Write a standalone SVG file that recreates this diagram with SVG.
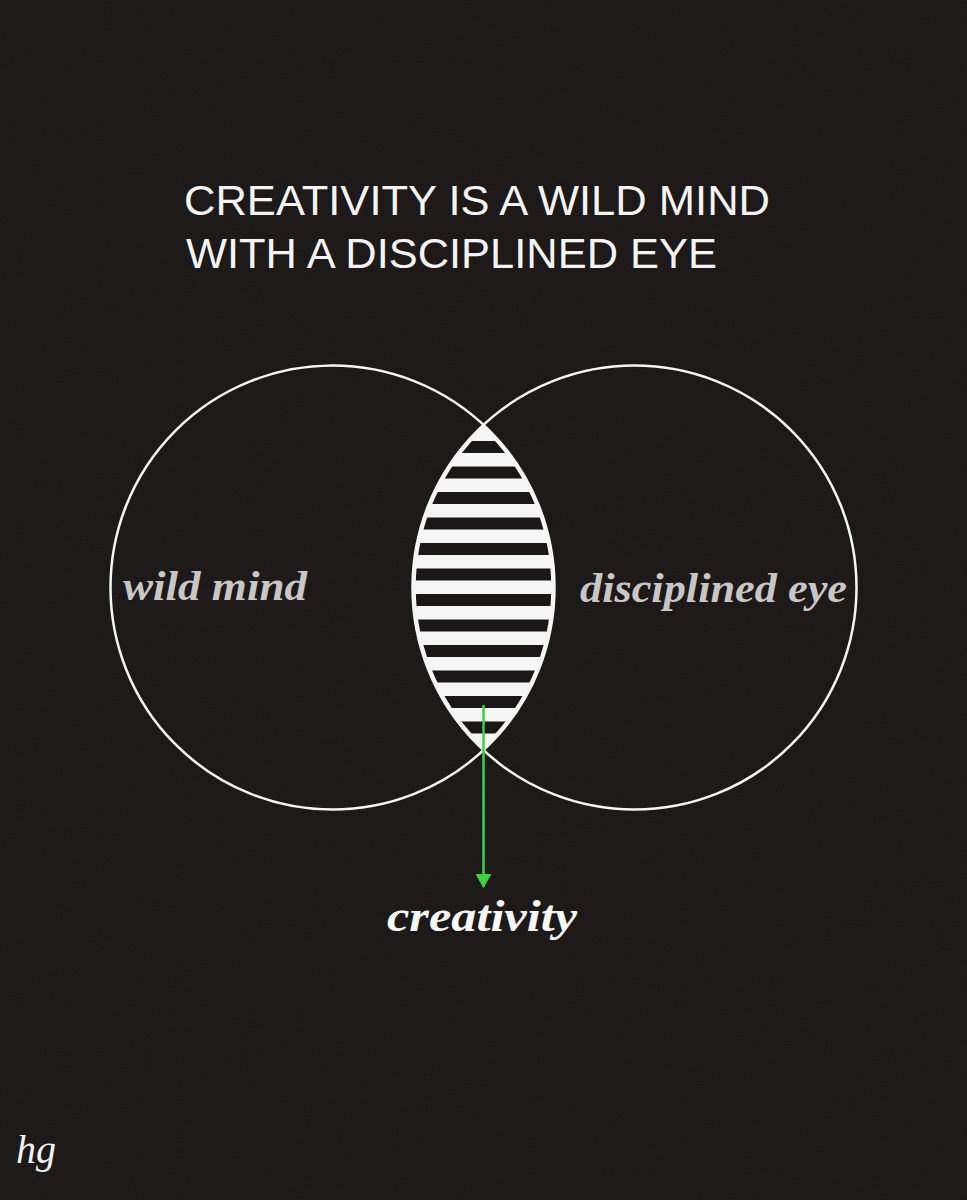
<svg xmlns="http://www.w3.org/2000/svg" width="967" height="1200" viewBox="0 0 967 1200">
<style>
.title{font-family:"Liberation Sans",Arial,sans-serif;font-size:43px;fill:#f4f4f4}
.lbl{font-family:"Liberation Serif","Times New Roman",serif;font-style:italic;font-weight:bold;font-size:43px;fill:#c9c7c6}
.ring{fill:none;stroke:#f5f5f5;stroke-width:2.5}
</style>
<defs>
<clipPath id="lensClip"><path d="M483.5,425 A222,222 0 0 0 483.5,750 A222,222 0 0 0 483.5,425 Z"/></clipPath>
<marker id="arr" viewBox="0 0 14 16" refX="13" refY="8" markerWidth="14" markerHeight="16" markerUnits="userSpaceOnUse" orient="auto">
<path d="M0,0 L14,8 L0,16 Z" fill="#3fd13f"/>
</marker>
<filter id="noise" x="0" y="0" width="100%" height="100%">
<feTurbulence type="fractalNoise" baseFrequency="0.9" numOctaves="2" seed="3"/>
<feColorMatrix type="matrix" values="0 0 0 0 1  0 0 0 0 1  0 0 0 0 1  0 0 0 0.04 0"/>
</filter>
</defs>
<rect width="967" height="1200" fill="#181514"/>
<rect width="967" height="1200" filter="url(#noise)"/>
<g id="title">
<text class="title" x="184" y="215" textLength="586" lengthAdjust="spacingAndGlyphs">CREATIVITY IS A WILD MIND</text>
<text class="title" x="186" y="268" textLength="531" lengthAdjust="spacingAndGlyphs">WITH A DISCIPLINED EYE</text>
</g>
<g id="intersection">
<g clip-path="url(#lensClip)">
<rect x="400" y="420" width="170" height="340" fill="#f5f5f5"/>
<g fill="#1a1716">
<rect x="400" y="441" width="170" height="12"/>
<rect x="400" y="466.5" width="170" height="12"/>
<rect x="400" y="492" width="170" height="12"/>
<rect x="400" y="517.5" width="170" height="12"/>
<rect x="400" y="543" width="170" height="12"/>
<rect x="400" y="568.5" width="170" height="12"/>
<rect x="400" y="594" width="170" height="12"/>
<rect x="400" y="619.5" width="170" height="12"/>
<rect x="400" y="645" width="170" height="12"/>
<rect x="400" y="670.5" width="170" height="12"/>
<rect x="400" y="696" width="170" height="12"/>
<rect x="400" y="721.5" width="170" height="12"/>
</g>
<path d="M483.5,425 A222,222 0 0 0 483.5,750 A222,222 0 0 0 483.5,425 Z" fill="none" stroke="#f5f5f5" stroke-width="6"/>
</g>
</g>
<g id="wild-mind">
<circle class="ring" cx="332.5" cy="587.5" r="222"/>
<text class="lbl" x="123" y="600" textLength="184" lengthAdjust="spacingAndGlyphs">wild mind</text>
</g>
<g id="disciplined-eye">
<circle class="ring" cx="634.5" cy="587.5" r="222"/>
<text class="lbl" x="580" y="602" textLength="267" lengthAdjust="spacingAndGlyphs">disciplined eye</text>
</g>
<g id="connectors">
<line x1="483.5" y1="705" x2="483.5" y2="887" stroke="#3fd13f" stroke-width="2.5" marker-end="url(#arr)"/>
</g>
<g id="creativity">
<text x="387" y="931" font-family="'Liberation Serif','Times New Roman',serif" font-style="italic" font-weight="bold" font-size="44" fill="#f8f8f8" textLength="190" lengthAdjust="spacingAndGlyphs">creativity</text>
</g>
<g id="signature">
<text x="16" y="1163" font-family="'Liberation Serif','Times New Roman',serif" font-style="italic" font-size="40" fill="#f2f2f2">hg</text>
</g>
</svg>
